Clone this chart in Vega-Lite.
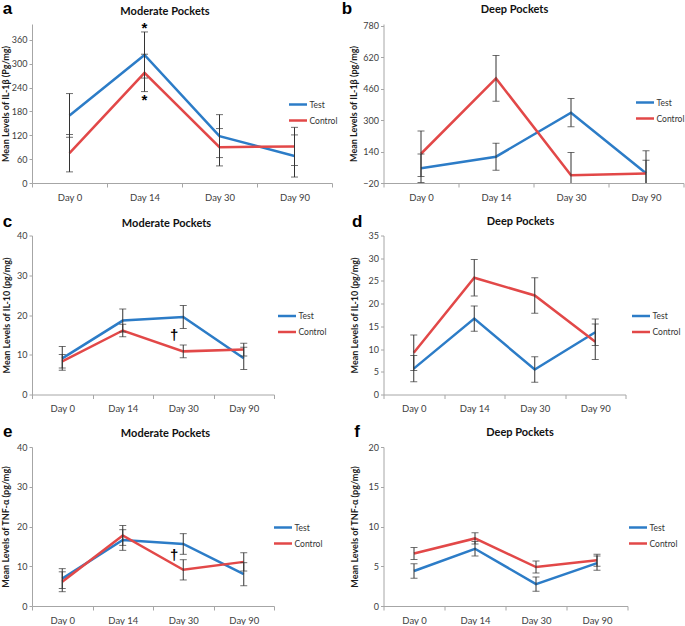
{
  "$schema": "https://vega.github.io/schema/vega-lite/v6.json",
  "padding": {"left": 1, "top": -1, "right": 0, "bottom": 0},
  "background": "white",
  "config": {
    "view": {"stroke": null},
    "font": "Lato",
    "axis": {"grid": false, "labelOverlap": false, "domainColor": "#a6a6a6", "tickColor": "#a6a6a6", "labelFont": "Lato", "labelFontSize": 9, "labelColor": "#404040", "titleFont": "Lato", "titleFontSize": 9, "titleFontWeight": "bold", "titleColor": "#1a1a1a"},
    "axisY": {"tickSize": 3, "labelPadding": 2, "tickCount": 20, "titleBaseline": "bottom", "titleAlign": "center", "titleAngle": -90},
    "axisX": {"tickSize": 4, "labelPadding": 5, "labelAngle": 0, "labelFontSize": 9.5, "tickBand": "extent"},
    "legend": {"orient": "none", "symbolType": "stroke", "symbolSize": 324, "symbolStrokeWidth": 3, "labelFont": "Lato", "labelFontSize": 8.5, "labelColor": "#333", "labelOffset": 1, "rowPadding": 0, "padding": 0},
    "line": {"strokeWidth": 2.5},
    "rule": {"color": "#333", "strokeWidth": 1},
    "tick": {"color": "#333", "thickness": 1, "size": 7}
  },
  "datasets": {
    "pa": [
      {"day": "Day 0", "group": "Test", "mean": 170, "lo": 115, "hi": 225},
      {"day": "Day 14", "group": "Test", "mean": 322, "lo": 264, "hi": 380},
      {"day": "Day 30", "group": "Test", "mean": 118, "lo": 64, "hi": 172},
      {"day": "Day 90", "group": "Test", "mean": 68, "lo": 15, "hi": 121},
      {"day": "Day 0", "group": "Control", "mean": 75, "lo": 28, "hi": 122},
      {"day": "Day 14", "group": "Control", "mean": 277, "lo": 230, "hi": 324},
      {"day": "Day 30", "group": "Control", "mean": 90, "lo": 43, "hi": 137},
      {"day": "Day 90", "group": "Control", "mean": 92, "lo": 44, "hi": 140}
    ],
    "pb": [
      {"day": "Day 0", "group": "Test", "mean": 55, "lo": -18, "hi": 128},
      {"day": "Day 14", "group": "Test", "mean": 114, "lo": 45, "hi": 183},
      {"day": "Day 30", "group": "Test", "mean": 338, "lo": 267, "hi": 410},
      {"day": "Day 90", "group": "Test", "mean": 30, "lo": -36, "hi": 96},
      {"day": "Day 0", "group": "Control", "mean": 129, "lo": 13, "hi": 245},
      {"day": "Day 14", "group": "Control", "mean": 513, "lo": 397, "hi": 630},
      {"day": "Day 30", "group": "Control", "mean": 20, "lo": -96, "hi": 136},
      {"day": "Day 90", "group": "Control", "mean": 28, "lo": -88, "hi": 144}
    ],
    "pc": [
      {"day": "Day 0", "group": "Test", "mean": 9.1, "lo": 6.1, "hi": 12.1},
      {"day": "Day 14", "group": "Test", "mean": 18.6, "lo": 15.7, "hi": 21.5},
      {"day": "Day 30", "group": "Test", "mean": 19.5, "lo": 16.6, "hi": 22.4},
      {"day": "Day 90", "group": "Test", "mean": 9.1, "lo": 6.3, "hi": 11.9},
      {"day": "Day 0", "group": "Control", "mean": 8.35, "lo": 6.65, "hi": 10.05},
      {"day": "Day 14", "group": "Control", "mean": 16.1, "lo": 14.5, "hi": 17.7},
      {"day": "Day 30", "group": "Control", "mean": 10.85, "lo": 9.25, "hi": 12.45},
      {"day": "Day 90", "group": "Control", "mean": 11.3, "lo": 9.7, "hi": 12.9}
    ],
    "pd": [
      {"day": "Day 0", "group": "Test", "mean": 5.7, "lo": 2.8, "hi": 8.6},
      {"day": "Day 14", "group": "Test", "mean": 16.7, "lo": 13.9, "hi": 19.5},
      {"day": "Day 30", "group": "Test", "mean": 5.5, "lo": 2.7, "hi": 8.3},
      {"day": "Day 90", "group": "Test", "mean": 13.7, "lo": 10.8, "hi": 16.6},
      {"day": "Day 0", "group": "Control", "mean": 9.2, "lo": 5.3, "hi": 13.1},
      {"day": "Day 14", "group": "Control", "mean": 25.7, "lo": 21.7, "hi": 29.7},
      {"day": "Day 30", "group": "Control", "mean": 21.8, "lo": 17.9, "hi": 25.7},
      {"day": "Day 90", "group": "Control", "mean": 11.6, "lo": 7.7, "hi": 15.5}
    ],
    "pe": [
      {"day": "Day 0", "group": "Test", "mean": 6.9, "lo": 4.4, "hi": 9.4},
      {"day": "Day 14", "group": "Test", "mean": 16.6, "lo": 14.0, "hi": 19.2},
      {"day": "Day 30", "group": "Test", "mean": 15.6, "lo": 13.0, "hi": 18.2},
      {"day": "Day 90", "group": "Test", "mean": 8.0, "lo": 5.1, "hi": 10.9},
      {"day": "Day 0", "group": "Control", "mean": 6.1, "lo": 3.6, "hi": 8.6},
      {"day": "Day 14", "group": "Control", "mean": 17.75, "lo": 15.25, "hi": 20.25},
      {"day": "Day 30", "group": "Control", "mean": 9.1, "lo": 6.55, "hi": 11.65},
      {"day": "Day 90", "group": "Control", "mean": 11.1, "lo": 8.8, "hi": 13.4}
    ],
    "pf": [
      {"day": "Day 0", "group": "Test", "mean": 4.4, "lo": 3.5, "hi": 5.3},
      {"day": "Day 14", "group": "Test", "mean": 7.2, "lo": 6.3, "hi": 8.1},
      {"day": "Day 30", "group": "Test", "mean": 2.75, "lo": 1.85, "hi": 3.65},
      {"day": "Day 90", "group": "Test", "mean": 5.4, "lo": 4.5, "hi": 6.3},
      {"day": "Day 0", "group": "Control", "mean": 6.6, "lo": 5.85, "hi": 7.35},
      {"day": "Day 14", "group": "Control", "mean": 8.5, "lo": 7.8, "hi": 9.2},
      {"day": "Day 30", "group": "Control", "mean": 4.9, "lo": 4.15, "hi": 5.65},
      {"day": "Day 90", "group": "Control", "mean": 5.75, "lo": 5.0, "hi": 6.5}
    ]
  },
  "resolve": {"scale": {"x": "independent", "y": "independent", "color": "independent"}, "axis": {"x": "independent", "y": "independent"}, "legend": {"color": "independent"}},
  "columns": 2,
  "bounds": "flush",
  "spacing": {"row": 52.5, "column": 51.5},
  "concat": [
    {
      "width": 300, "height": 159,
      "data": {"name": "pa"},
      "resolve": {"axis": {"x": "independent"}},
      "layer": [
        {"mark": "line", "encoding": {
          "x": {"field": "day", "type": "ordinal", "sort": ["Day 0", "Day 14", "Day 30", "Day 90"], "scale": {"type": "band", "paddingInner": 0, "paddingOuter": 0}, "axis": {"title": null, "orient": "bottom"}},
          "y": {"field": "mean", "type": "quantitative", "scale": {"domain": [0, 400]}, "axis": {"values": [0, 60, 120, 180, 240, 300, 360], "tickCount": 20, "title": "Mean Levels of IL-1β (Pg/mg)", "titleX": -21.5}},
          "color": {"field": "group", "type": "nominal", "scale": {"domain": ["Test", "Control"], "range": ["#2c7cc7", "#e24848"]}, "legend": {"title": null, "legendX": 255.5, "legendY": 70}}}},
        {"mark": {"type": "rule", "clip": true}, "encoding": {
          "x": {"field": "day", "type": "ordinal", "sort": ["Day 0", "Day 14", "Day 30", "Day 90"], "axis": {"orient": "top", "labels": false, "ticks": false, "domain": false, "title": "Moderate Pockets", "titleX": 132.5, "titleY": -10, "titleAlign": "center", "titleBaseline": "alphabetic", "titleFont": "Lato", "titleFontSize": 11, "titleColor": "#111"}},
          "y": {"field": "lo", "type": "quantitative", "scale": {"domain": [0, 400]}}, "y2": {"field": "hi"}, "detail": {"field": "group"}}},
        {"mark": {"type": "tick", "clip": true}, "encoding": {
          "x": {"field": "day", "type": "ordinal", "sort": ["Day 0", "Day 14", "Day 30", "Day 90"], "axis": {"orient": "top", "labels": false, "ticks": false, "domain": false, "title": "a", "titleX": -29.8, "titleY": -10.7, "titleAlign": "left", "titleBaseline": "alphabetic", "titleFont": "Liberation Sans", "titleFontSize": 17, "titleColor": "#000"}},
          "y": {"field": "lo", "type": "quantitative", "scale": {"domain": [0, 400]}}, "detail": {"field": "group"}}},
        {"mark": {"type": "tick", "clip": true}, "encoding": {
          "x": {"field": "day", "type": "ordinal", "sort": ["Day 0", "Day 14", "Day 30", "Day 90"], "axis": null},
          "y": {"field": "hi", "type": "quantitative", "scale": {"domain": [0, 400]}}, "detail": {"field": "group"}}},
        {"data": {"values": [{"day": "Day 14", "pos": 389, "label": "*"}, {"day": "Day 14", "pos": 210, "label": "*"}]}, "mark": {"type": "text", "font": "Liberation Sans", "fontSize": 15, "fontWeight": "bold", "color": "#000", "baseline": "middle"}, "encoding": {
          "x": {"field": "day", "type": "ordinal", "sort": ["Day 0", "Day 14", "Day 30", "Day 90"], "axis": null},
          "y": {"field": "pos", "type": "quantitative", "scale": {"domain": [0, 400]}}, "text": {"field": "label"}}}
      ]
    },
    {
      "width": 300, "height": 159,
      "data": {"name": "pb"},
      "resolve": {"axis": {"x": "independent"}},
      "layer": [
        {"mark": "line", "encoding": {
          "x": {"field": "day", "type": "ordinal", "sort": ["Day 0", "Day 14", "Day 30", "Day 90"], "scale": {"type": "band", "paddingInner": 0, "paddingOuter": 0}, "axis": {"title": null, "orient": "bottom"}},
          "y": {"field": "mean", "type": "quantitative", "scale": {"domain": [-20, 790]}, "axis": {"values": [-20, 140, 300, 460, 620, 780], "tickCount": 20, "title": "Mean Levels of IL-1β (pg/mg)", "titleX": -25.5}},
          "color": {"field": "group", "type": "nominal", "scale": {"domain": ["Test", "Control"], "range": ["#2c7cc7", "#e24848"]}, "legend": {"title": null, "legendX": 251, "legendY": 68}}}},
        {"mark": {"type": "rule", "clip": true}, "encoding": {
          "x": {"field": "day", "type": "ordinal", "sort": ["Day 0", "Day 14", "Day 30", "Day 90"], "axis": {"orient": "top", "labels": false, "ticks": false, "domain": false, "title": "Deep Pockets", "titleX": 130.5, "titleY": -11.5, "titleAlign": "center", "titleBaseline": "alphabetic", "titleFont": "Lato", "titleFontSize": 11, "titleColor": "#111"}},
          "y": {"field": "lo", "type": "quantitative", "scale": {"domain": [-20, 790]}}, "y2": {"field": "hi"}, "detail": {"field": "group"}}},
        {"mark": {"type": "tick", "clip": true}, "encoding": {
          "x": {"field": "day", "type": "ordinal", "sort": ["Day 0", "Day 14", "Day 30", "Day 90"], "axis": {"orient": "top", "labels": false, "ticks": false, "domain": false, "title": "b", "titleX": -42.3, "titleY": -11, "titleAlign": "left", "titleBaseline": "alphabetic", "titleFont": "Liberation Sans", "titleFontSize": 17, "titleColor": "#000"}},
          "y": {"field": "lo", "type": "quantitative", "scale": {"domain": [-20, 790]}}, "detail": {"field": "group"}}},
        {"mark": {"type": "tick", "clip": true}, "encoding": {
          "x": {"field": "day", "type": "ordinal", "sort": ["Day 0", "Day 14", "Day 30", "Day 90"], "axis": null},
          "y": {"field": "hi", "type": "quantitative", "scale": {"domain": [-20, 790]}}, "detail": {"field": "group"}}}
      ]
    },
    {
      "width": 242, "height": 159,
      "data": {"name": "pc"},
      "resolve": {"axis": {"x": "independent"}},
      "layer": [
        {"mark": "line", "encoding": {
          "x": {"field": "day", "type": "ordinal", "sort": ["Day 0", "Day 14", "Day 30", "Day 90"], "scale": {"type": "band", "paddingInner": 0, "paddingOuter": 0}, "axis": {"title": null, "orient": "bottom"}},
          "y": {"field": "mean", "type": "quantitative", "scale": {"domain": [0, 40]}, "axis": {"values": [0, 10, 20, 30, 40], "tickCount": 20, "title": "Mean Levels of IL-10 (pg/mg)", "titleX": -21}},
          "color": {"field": "group", "type": "nominal", "scale": {"domain": ["Test", "Control"], "range": ["#2c7cc7", "#e24848"]}, "legend": {"title": null, "legendX": 244.5, "legendY": 70}}}},
        {"mark": {"type": "rule", "clip": true}, "encoding": {
          "x": {"field": "day", "type": "ordinal", "sort": ["Day 0", "Day 14", "Day 30", "Day 90"], "axis": {"orient": "top", "labels": false, "ticks": false, "domain": false, "title": "Moderate Pockets", "titleX": 134, "titleY": -9.5, "titleAlign": "center", "titleBaseline": "alphabetic", "titleFont": "Lato", "titleFontSize": 11, "titleColor": "#111"}},
          "y": {"field": "lo", "type": "quantitative", "scale": {"domain": [0, 40]}}, "y2": {"field": "hi"}, "detail": {"field": "group"}}},
        {"mark": {"type": "tick", "clip": true}, "encoding": {
          "x": {"field": "day", "type": "ordinal", "sort": ["Day 0", "Day 14", "Day 30", "Day 90"], "axis": {"orient": "top", "labels": false, "ticks": false, "domain": false, "title": "c", "titleX": -29.8, "titleY": -9.3, "titleAlign": "left", "titleBaseline": "alphabetic", "titleFont": "Liberation Sans", "titleFontSize": 17, "titleColor": "#000"}},
          "y": {"field": "lo", "type": "quantitative", "scale": {"domain": [0, 40]}}, "detail": {"field": "group"}}},
        {"mark": {"type": "tick", "clip": true}, "encoding": {
          "x": {"field": "day", "type": "ordinal", "sort": ["Day 0", "Day 14", "Day 30", "Day 90"], "axis": null},
          "y": {"field": "hi", "type": "quantitative", "scale": {"domain": [0, 40]}}, "detail": {"field": "group"}}},
        {"data": {"values": [{"day": "Day 30", "pos": 15.0, "label": "†"}]}, "mark": {"type": "text", "font": "Liberation Sans", "fontSize": 15, "fontWeight": "bold", "color": "#000", "baseline": "middle", "dx": -9}, "encoding": {
          "x": {"field": "day", "type": "ordinal", "sort": ["Day 0", "Day 14", "Day 30", "Day 90"], "axis": null},
          "y": {"field": "pos", "type": "quantitative", "scale": {"domain": [0, 40]}}, "text": {"field": "label"}}}
      ]
    },
    {
      "width": 242, "height": 159,
      "data": {"name": "pd"},
      "resolve": {"axis": {"x": "independent"}},
      "layer": [
        {"mark": "line", "encoding": {
          "x": {"field": "day", "type": "ordinal", "sort": ["Day 0", "Day 14", "Day 30", "Day 90"], "scale": {"type": "band", "paddingInner": 0, "paddingOuter": 0}, "axis": {"title": null, "orient": "bottom"}},
          "y": {"field": "mean", "type": "quantitative", "scale": {"domain": [0, 35]}, "axis": {"values": [0, 5, 10, 15, 20, 25, 30, 35], "tickCount": 20, "title": "Mean Levels of IL-10 (pg/mg)", "titleX": -24}},
          "color": {"field": "group", "type": "nominal", "scale": {"domain": ["Test", "Control"], "range": ["#2c7cc7", "#e24848"]}, "legend": {"title": null, "legendX": 247, "legendY": 70}}}},
        {"mark": {"type": "rule", "clip": true}, "encoding": {
          "x": {"field": "day", "type": "ordinal", "sort": ["Day 0", "Day 14", "Day 30", "Day 90"], "axis": {"orient": "top", "labels": false, "ticks": false, "domain": false, "title": "Deep Pockets", "titleX": 136.5, "titleY": -11, "titleAlign": "center", "titleBaseline": "alphabetic", "titleFont": "Lato", "titleFontSize": 11, "titleColor": "#111"}},
          "y": {"field": "lo", "type": "quantitative", "scale": {"domain": [0, 35]}}, "y2": {"field": "hi"}, "detail": {"field": "group"}}},
        {"mark": {"type": "tick", "clip": true}, "encoding": {
          "x": {"field": "day", "type": "ordinal", "sort": ["Day 0", "Day 14", "Day 30", "Day 90"], "axis": {"orient": "top", "labels": false, "ticks": false, "domain": false, "title": "d", "titleX": -32, "titleY": -9.3, "titleAlign": "left", "titleBaseline": "alphabetic", "titleFont": "Liberation Sans", "titleFontSize": 17, "titleColor": "#000"}},
          "y": {"field": "lo", "type": "quantitative", "scale": {"domain": [0, 35]}}, "detail": {"field": "group"}}},
        {"mark": {"type": "tick", "clip": true}, "encoding": {
          "x": {"field": "day", "type": "ordinal", "sort": ["Day 0", "Day 14", "Day 30", "Day 90"], "axis": null},
          "y": {"field": "hi", "type": "quantitative", "scale": {"domain": [0, 35]}}, "detail": {"field": "group"}}}
      ]
    },
    {
      "width": 242, "height": 159,
      "data": {"name": "pe"},
      "resolve": {"axis": {"x": "independent"}},
      "layer": [
        {"mark": "line", "encoding": {
          "x": {"field": "day", "type": "ordinal", "sort": ["Day 0", "Day 14", "Day 30", "Day 90"], "scale": {"type": "band", "paddingInner": 0, "paddingOuter": 0}, "axis": {"title": null, "orient": "bottom"}},
          "y": {"field": "mean", "type": "quantitative", "scale": {"domain": [0, 40]}, "axis": {"values": [0, 10, 20, 30, 40], "tickCount": 20, "title": "Mean Levels of TNF-α (pg/mg)", "titleX": -21.5}},
          "color": {"field": "group", "type": "nominal", "scale": {"domain": ["Test", "Control"], "range": ["#2c7cc7", "#e24848"]}, "legend": {"title": null, "legendX": 240.5, "legendY": 70}}}},
        {"mark": {"type": "rule", "clip": true}, "encoding": {
          "x": {"field": "day", "type": "ordinal", "sort": ["Day 0", "Day 14", "Day 30", "Day 90"], "axis": {"orient": "top", "labels": false, "ticks": false, "domain": false, "title": "Moderate Pockets", "titleX": 133, "titleY": -10.5, "titleAlign": "center", "titleBaseline": "alphabetic", "titleFont": "Lato", "titleFontSize": 11, "titleColor": "#111"}},
          "y": {"field": "lo", "type": "quantitative", "scale": {"domain": [0, 40]}}, "y2": {"field": "hi"}, "detail": {"field": "group"}}},
        {"mark": {"type": "tick", "clip": true}, "encoding": {
          "x": {"field": "day", "type": "ordinal", "sort": ["Day 0", "Day 14", "Day 30", "Day 90"], "axis": {"orient": "top", "labels": false, "ticks": false, "domain": false, "title": "e", "titleX": -29.5, "titleY": -10.7, "titleAlign": "left", "titleBaseline": "alphabetic", "titleFont": "Liberation Sans", "titleFontSize": 17, "titleColor": "#000"}},
          "y": {"field": "lo", "type": "quantitative", "scale": {"domain": [0, 40]}}, "detail": {"field": "group"}}},
        {"mark": {"type": "tick", "clip": true}, "encoding": {
          "x": {"field": "day", "type": "ordinal", "sort": ["Day 0", "Day 14", "Day 30", "Day 90"], "axis": null},
          "y": {"field": "hi", "type": "quantitative", "scale": {"domain": [0, 40]}}, "detail": {"field": "group"}}},
        {"data": {"values": [{"day": "Day 30", "pos": 12.8, "label": "†"}]}, "mark": {"type": "text", "font": "Liberation Sans", "fontSize": 15, "fontWeight": "bold", "color": "#000", "baseline": "middle", "dx": -9}, "encoding": {
          "x": {"field": "day", "type": "ordinal", "sort": ["Day 0", "Day 14", "Day 30", "Day 90"], "axis": null},
          "y": {"field": "pos", "type": "quantitative", "scale": {"domain": [0, 40]}}, "text": {"field": "label"}}}
      ]
    },
    {
      "width": 244, "height": 159,
      "data": {"name": "pf"},
      "resolve": {"axis": {"x": "independent"}},
      "layer": [
        {"mark": "line", "encoding": {
          "x": {"field": "day", "type": "ordinal", "sort": ["Day 0", "Day 14", "Day 30", "Day 90"], "scale": {"type": "band", "paddingInner": 0, "paddingOuter": 0}, "axis": {"title": null, "orient": "bottom"}},
          "y": {"field": "mean", "type": "quantitative", "scale": {"domain": [0, 20]}, "axis": {"values": [0, 5, 10, 15, 20], "tickCount": 20, "title": "Mean Levels of TNF-α (pg/mg)", "titleX": -24}},
          "color": {"field": "group", "type": "nominal", "scale": {"domain": ["Test", "Control"], "range": ["#2c7cc7", "#e24848"]}, "legend": {"title": null, "legendX": 244, "legendY": 70}}}},
        {"mark": {"type": "rule", "clip": true}, "encoding": {
          "x": {"field": "day", "type": "ordinal", "sort": ["Day 0", "Day 14", "Day 30", "Day 90"], "axis": {"orient": "top", "labels": false, "ticks": false, "domain": false, "title": "Deep Pockets", "titleX": 136, "titleY": -12, "titleAlign": "center", "titleBaseline": "alphabetic", "titleFont": "Lato", "titleFontSize": 11, "titleColor": "#111"}},
          "y": {"field": "lo", "type": "quantitative", "scale": {"domain": [0, 20]}}, "y2": {"field": "hi"}, "detail": {"field": "group"}}},
        {"mark": {"type": "tick", "clip": true}, "encoding": {
          "x": {"field": "day", "type": "ordinal", "sort": ["Day 0", "Day 14", "Day 30", "Day 90"], "axis": {"orient": "top", "labels": false, "ticks": false, "domain": false, "title": "f", "titleX": -29.7, "titleY": -11, "titleAlign": "left", "titleBaseline": "alphabetic", "titleFont": "Liberation Sans", "titleFontSize": 17, "titleColor": "#000"}},
          "y": {"field": "lo", "type": "quantitative", "scale": {"domain": [0, 20]}}, "detail": {"field": "group"}}},
        {"mark": {"type": "tick", "clip": true}, "encoding": {
          "x": {"field": "day", "type": "ordinal", "sort": ["Day 0", "Day 14", "Day 30", "Day 90"], "axis": null},
          "y": {"field": "hi", "type": "quantitative", "scale": {"domain": [0, 20]}}, "detail": {"field": "group"}}}
      ]
    }
  ]
}
